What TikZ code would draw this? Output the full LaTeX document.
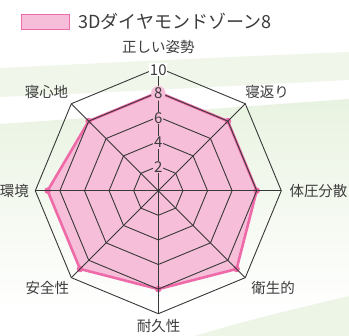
\documentclass[tikz,border=0pt]{standalone}
\usepackage{fontspec}
\setmainfont{Noto Sans CJK JP}
\definecolor{pinkfill}{HTML}{F6BED8}
\definecolor{pinkline}{HTML}{EE6AA8}
\definecolor{gridc}{HTML}{383838}
\definecolor{txt}{HTML}{3C3C3C}
\definecolor{bggreen}{HTML}{E9F3E1}
\begin{document}
\begin{tikzpicture}[x=1pt,y=-1pt,
  lab/.style={text=txt,font=\fontsize{14.5}{16}\selectfont,inner sep=0pt},
  tick/.style={text=txt,font=\fontsize{15}{16}\selectfont,inner sep=0.8pt},
  gridline/.style={draw=gridc,line width=0.9pt,line join=miter},
  dataline/.style={draw=pinkline,line width=2.6pt,line join=round}]
\useasboundingbox (0,0) rectangle (349,336);
% background
\fill[white] (0,0) rectangle (349,336);
\fill[bggreen!70] (0,68) .. controls (120,62) and (250,56) .. (349,52) -- (349,80) .. controls (250,85) and (120,92) .. (0,97) -- cycle;
\shade[top color=bggreen, bottom color=white] (0,124) .. controls (120,116) and (250,106) .. (349,99) -- (349,300) -- (0,310) -- cycle;
\fill[bggreen!80] (349,296) .. controls (290,310) and (240,322) .. (195,336) -- (349,336) -- cycle;
% geometry
\coordinate (O) at (158.3,190.7);
\foreach \i/\a in {1/90,2/45,3/0,4/-45,5/-90,6/-135,7/180,8/135}{
  \foreach \k in {2,4,6,8,10}{
    \coordinate (g\k-\i) at ({158.3+12.3*\k*cos(\a)},{190.7-12.3*\k*sin(\a)});
  }
}
\foreach \i/\a/\v in {1/90/8,2/45/8,3/0/8,4/-45/9,5/-90/8,6/-135/9,7/180/9,8/135/8}{
  \coordinate (d\i) at ({158.3+12.3*\v*cos(\a)},{190.7-12.3*\v*sin(\a)});
}
% data area
\fill[pinkfill] (d1)--(d2)--(d3)--(d4)--(d5)--(d6)--(d7)--(d8)--cycle;
\draw[dataline] (d1)--(d2)--(d3)--(d4)--(d5)--(d6)--(d7)--(d8)--cycle;
\foreach \i in {1,...,8}{\fill[pinkline] (d\i) circle (3.3);}
% grid
\foreach \k in {2,4,6,8,10}{
  \draw[gridline] (g\k-1)--(g\k-2)--(g\k-3)--(g\k-4)--(g\k-5)--(g\k-6)--(g\k-7)--(g\k-8)--cycle;
}
\foreach \i in {1,...,8}{\draw[gridline] (O)--(g10-\i);}
% tick labels
\node[tick,fill=pinkfill] (t2) at ([yshift=-1pt]g2-1) {2};
\node[tick,fill=pinkfill] (t4) at ([yshift=-1pt]g4-1) {4};
\node[tick,fill=pinkfill] (t6) at ([yshift=-1pt]g6-1) {6};
\node[tick,fill=pinkfill,circle,inner sep=0.3pt] (t8) at ([yshift=-1pt]g8-1) {8};
\node[tick,fill=white] (t10) at ([yshift=-2pt]g10-1) {10};
% axis labels
\node[lab] (l1) at (158.3,47) {正しい姿勢};
\node[lab] (l2) at (267,92) {寝返り};
\node[lab] (l3) at (318.5,190.7) {体圧分散};
\node[lab] (l4) at (273,288) {衛生的};
\node[lab] (l5) at (158.5,326) {耐久性};
\node[lab] (l6) at (47.5,288) {安全性};
\node[lab,anchor=east] (l7) at (29,190.7) {環境};
\node[lab] (l8) at (46.5,92) {寝心地};
% legend
\node[draw=pinkline,fill=pinkfill,line width=1pt,minimum width=48,minimum height=15,inner sep=0] (leg) at (45,21.7) {};
\node[anchor=west,text=txt,font=\fontsize{18}{20}\selectfont,inner sep=0] (legt) at (78,21.7) {3Dダイヤモンドゾーン8};
\end{tikzpicture}
\end{document}
